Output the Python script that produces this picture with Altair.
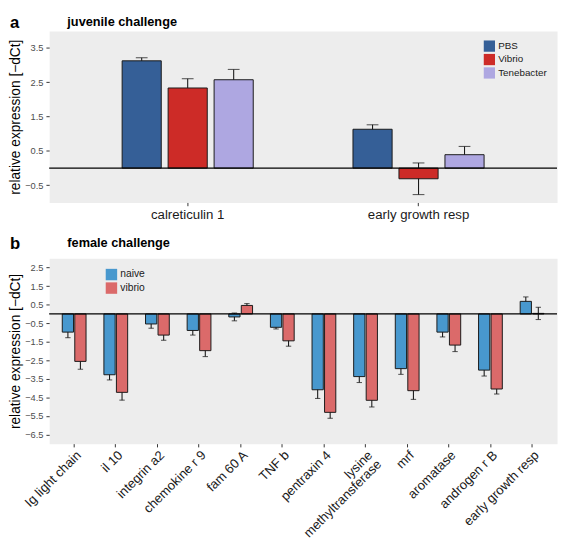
import altair as alt
import pandas as pd

# ---------------- panel a: juvenile challenge ----------------
juv_genes = ["calreticulin 1", "early growth resp"]
juv_groups = ["PBS", "Vibrio", "Tenebacter"]
juv_colors = ["#355F97", "#CD2B27", "#AEA7E1"]
pbs_mean = [3.12, 1.13]
pbs_se = [0.09, 0.13]
vib_mean = [2.33, -0.31]
vib_se = [0.27, 0.46]
ten_mean = [2.57, 0.39]
ten_se = [0.30, 0.24]
juv_ticks = [-0.5, 0.5, 1.5, 2.5, 3.5]

# ---------------- panel b: female challenge ----------------
fem_genes = ["Ig light chain", "il 10", "integrin a2", "chemokine r 9", "fam 60 A",
             "TNF b", "pentraxin 4", "lysine methyltransferase", "mrf", "aromatase",
             "androgen r B", "early growth resp"]
fem_groups = ["naive", "vibrio"]
fem_colors = ["#4898CE", "#DB6A6A"]
naive_mean = [-0.98, -3.28, -0.54, -0.89, -0.16, -0.72, -4.09, -3.38, -2.95, -0.98, -3.03, 0.68]
naive_se = [0.30, 0.28, 0.23, 0.25, 0.21, 0.09, 0.47, 0.32, 0.31, 0.26, 0.32, 0.24]
vibrio_mean = [-2.56, -4.23, -1.14, -1.98, 0.46, -1.45, -5.31, -4.66, -4.14, -1.68, -4.05, 0.03]
vibrio_se = [0.42, 0.42, 0.28, 0.32, 0.10, 0.29, 0.32, 0.36, 0.47, 0.35, 0.27, 0.33]
fem_ticks = [2.5, 1.5, 0.5, -0.5, -1.5, -2.5, -3.5, -4.5, -5.5, -6.5]


def table(genes, groups, means, ses):
    rows = []
    for grp, m, s in zip(groups, means, ses):
        for gene, mm, ss in zip(genes, m, s):
            rows.append({"gene": gene, "group": grp, "mean": mm, "se": ss})
    return pd.DataFrame(rows)


juv = table(juv_genes, juv_groups, [pbs_mean, vib_mean, ten_mean], [pbs_se, vib_se, ten_se])
fem = table(fem_genes, fem_groups, [naive_mean, vibrio_mean], [naive_se, vibrio_se])

YTITLE = "relative expression [\u2212dCt]"
INK = "#1a1a1a"


def panel(df, genes, groups, colors, ydom, yticks, W, H, pi, po, pi2, cap,
          xaxis, legend, letter, title, letter_y, title_y):
    base = alt.Chart(df).transform_calculate(
        lo="datum.mean - datum.se", hi="datum.mean + datum.se"
    )
    X = alt.X("gene:N", sort=genes, scale=alt.Scale(paddingInner=pi, paddingOuter=po), axis=xaxis)
    XO = alt.XOffset("group:N", sort=groups, scale=alt.Scale(paddingInner=pi2, paddingOuter=0))
    ysc = alt.Scale(domain=ydom, nice=False, zero=False)
    yax = alt.Axis(values=yticks, format=".1f", title=YTITLE)

    err = base.mark_rule(color=INK, strokeWidth=1.1).encode(
        x=X, xOffset=XO, y=alt.Y("lo:Q", scale=ysc, axis=yax), y2="hi:Q")
    cap_hi = base.mark_tick(color=INK, size=cap, thickness=1.1).encode(
        x=X, xOffset=XO, y=alt.Y("hi:Q", scale=ysc, axis=yax))
    cap_lo = base.mark_tick(color=INK, size=cap, thickness=1.1).encode(
        x=X, xOffset=XO, y=alt.Y("lo:Q", scale=ysc, axis=yax))
    bars = base.mark_bar(stroke=INK, strokeWidth=1).encode(
        x=X, xOffset=XO,
        y=alt.Y("mean:Q", scale=ysc, axis=yax, stack=None),
        y2=alt.datum(0),
        color=alt.Color("group:N", sort=groups,
                        scale=alt.Scale(domain=groups, range=colors), legend=legend),
    )
    zero = alt.Chart(pd.DataFrame({"z": [0]})).mark_rule(color="black", strokeWidth=1.2).encode(
        y=alt.Y("z:Q", scale=ysc, axis=yax))
    letter_t = alt.Chart(pd.DataFrame({"t": [letter]})).mark_text(
        align="left", baseline="top", fontSize=17, fontWeight="bold", color="black"
    ).encode(text="t:N", x=alt.value(-40), y=alt.value(letter_y))
    title_t = alt.Chart(pd.DataFrame({"t": [title]})).mark_text(
        align="left", baseline="top", fontSize=13, fontWeight="bold", color="black"
    ).encode(text="t:N", x=alt.value(18.5), y=alt.value(title_y))
    return alt.layer(err, cap_hi, cap_lo, bars, zero, letter_t, title_t).properties(width=W, height=H)


W = 518
top = panel(
    juv, juv_genes, juv_groups, juv_colors, [-1.0, 3.99], juv_ticks, W, 175,
    0.432, 0.316, 0.149, 12,
    alt.Axis(title=None, labelAngle=0, labelFontSize=13.5, labelColor=INK, labelPadding=2),
    alt.Legend(title=None, orient="none", legendX=443, legendY=9.5, symbolType="square",
               symbolSize=132, symbolStrokeWidth=0, labelFontSize=10, labelColor=INK,
               padding=0, rowPadding=1.7, labelOffset=3, symbolOffset=0),
    "a", "juvenile challenge", -16, -15,
)

bottom = panel(
    fem, fem_genes, fem_groups, fem_colors, [-7.0, 3.0], fem_ticks, W, 189,
    0.429, 0.3145, 0.10, 5.5,
    alt.Axis(title=None, labelAngle=-45, labelFontSize=13.3, labelColor=INK, labelPadding=1,
             labelOverlap=False, labelLineHeight=13,
             labelExpr="datum.label == 'lysine methyltransferase' ? ['lysine', 'methyltransferase'] : datum.label"),
    alt.Legend(title=None, orient="none", legendX=57.5, legendY=10.5, symbolType="square",
               symbolSize=136, symbolStrokeWidth=0, labelFontSize=10.5, labelColor=INK,
               padding=0, rowPadding=1.8, labelOffset=3, symbolOffset=0),
    "b", "female challenge", -23, -21.5,
)

chart = alt.vconcat(top, bottom, spacing=12).resolve_scale(
    x="independent", y="independent", xOffset="independent", color="independent"
).properties(
    padding={"left": 0, "top": 0, "right": 0, "bottom": 0}
).configure(
    font="Liberation Sans"
).configure_view(
    fill="#EDEDED", stroke="transparent"
).configure_axis(
    domain=False, grid=False, ticks=True, tickColor="#333333", tickSize=3.3, tickWidth=1,
    labelFont="Liberation Sans", titleFont="Liberation Sans"
).configure_axisY(
    labelFontSize=9.5, labelColor="#4D4D4D", labelPadding=3,
    titleFontSize=14, titleFontWeight="normal", titleColor="black", titlePadding=2
)

chart.save("out.html", embed_options={"renderer": "svg", "actions": False})
